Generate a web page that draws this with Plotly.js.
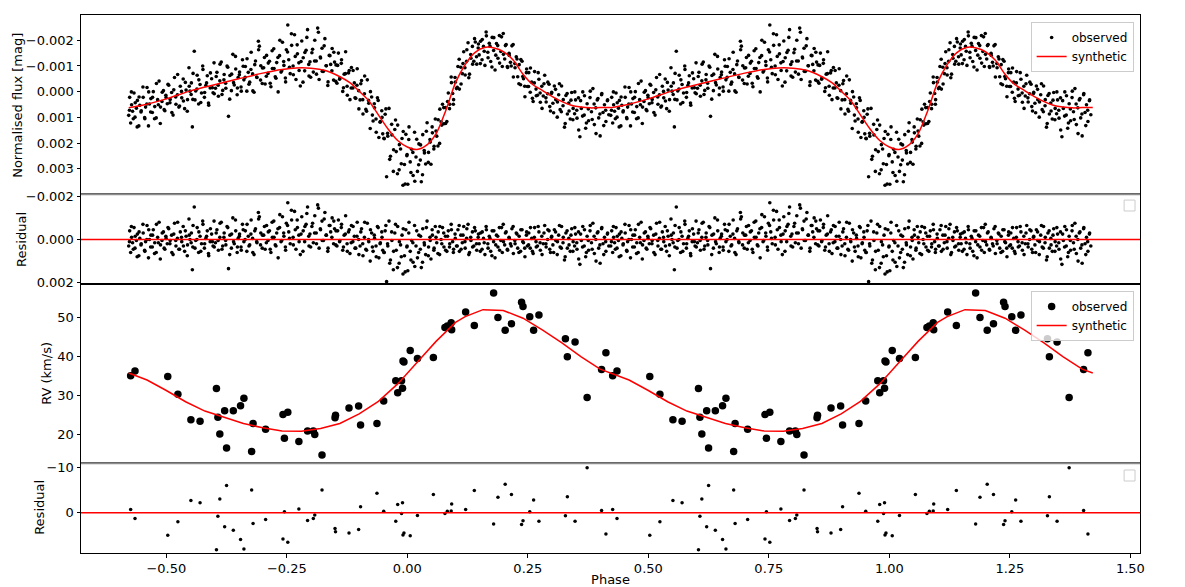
<!DOCTYPE html>
<html>
<head>
<meta charset="utf-8">
<script src="https://cdn.plot.ly/plotly-3.0.1.min.js"></script>
<style>html,body{margin:0;padding:0;background:#fff;}#chart{width:1185px;height:587px;}</style>
</head>
<body>
<div id="chart"></div>
<script>
// ---------- Light curve (one cycle; the figure shows it twice, at phase and phase+1) ----------
const lcPhase = [
-0.578,-0.576,-0.574,-0.572,-0.570,-0.567,-0.565,-0.562,-0.560,-0.557,-0.555,-0.552,
-0.548,-0.545,-0.543,-0.540,-0.537,-0.535,-0.532,-0.529,-0.527,-0.524,-0.521,-0.518,-0.515,-0.512,-0.509,-0.506,-0.503,-0.501,
-0.498,-0.495,-0.492,-0.489,-0.486,-0.483,-0.480,-0.477,-0.474,-0.471,-0.468,-0.465,-0.462,-0.459,-0.456,-0.453,-0.451,-0.446,
-0.448,-0.445,-0.442,-0.439,-0.436,-0.433,-0.430,-0.427,-0.424,-0.421,-0.418,-0.415,-0.412,-0.409,-0.406,-0.403,-0.401,
-0.398,-0.395,-0.392,-0.389,-0.386,-0.383,-0.380,-0.377,-0.374,-0.371,-0.368,-0.365,-0.362,-0.359,-0.356,-0.353,-0.351,
-0.348,-0.345,-0.342,-0.339,-0.336,-0.333,-0.330,-0.327,-0.324,-0.321,-0.318,-0.315,-0.312,-0.309,-0.307,-0.304,-0.301,
-0.298,-0.295,-0.292,-0.289,-0.286,-0.283,-0.280,-0.277,-0.274,-0.271,-0.268,-0.265,-0.262,-0.259,-0.256,-0.253,-0.251,
-0.248,-0.246,-0.243,-0.240,-0.237,-0.234,-0.231,-0.228,-0.225,-0.222,-0.219,-0.216,-0.213,-0.210,-0.207,-0.204,-0.202,
-0.198,-0.195,-0.192,-0.189,-0.186,-0.183,-0.180,-0.177,-0.174,-0.171,-0.168,-0.165,-0.162,-0.159,-0.156,-0.153,-0.151,
-0.148,-0.146,-0.143,-0.140,-0.137,-0.134,-0.131,-0.128,-0.125,-0.122,-0.119,-0.116,-0.113,-0.110,-0.107,-0.104,-0.101,
-0.098,-0.095,-0.092,-0.089,-0.086,-0.083,-0.080,-0.077,-0.074,-0.071,-0.068,-0.065,-0.062,-0.059,-0.056,-0.053,-0.051,
-0.048,-0.046,-0.043,-0.041,-0.038,-0.035,-0.032,-0.029,-0.026,-0.023,-0.020,-0.017,-0.014,-0.011,-0.009,-0.006,-0.003,-0.001,
0.001,0.003,0.006,0.009,0.012,0.015,0.018,0.021,0.024,0.027,0.029,0.032,0.035,0.038,0.041,0.044,0.047,0.049,
0.052,0.055,0.058,0.061,0.064,0.067,0.070,0.073,0.076,0.079,0.082,0.085,0.088,0.091,0.094,0.096,0.099,
0.102,0.105,0.108,0.111,0.114,0.117,0.120,0.123,0.126,0.129,0.132,0.135,0.138,0.141,0.144,0.147,0.149,
0.152,0.155,0.158,0.161,0.164,0.167,0.170,0.173,0.176,0.179,0.182,0.185,0.188,0.191,0.194,0.197,0.199,
0.202,0.205,0.208,0.211,0.214,0.217,0.220,0.223,0.226,0.229,0.232,0.235,0.238,0.241,0.244,0.247,0.249,
0.252,0.255,0.258,0.261,0.264,0.267,0.270,0.273,0.276,0.279,0.282,0.285,0.288,0.291,0.294,0.297,0.299,
0.302,0.305,0.308,0.311,0.314,0.317,0.320,0.323,0.326,0.329,0.332,0.335,0.338,0.341,0.344,0.347,0.349,
0.352,0.355,0.358,0.361,0.364,0.367,0.370,0.373,0.376,0.379,0.382,0.385,0.388,0.391,0.394,0.397,0.400,0.403,0.406,0.409,0.412,0.415,0.418,
-0.5765,-0.5725,-0.5685,-0.5645,-0.5605,-0.5565,-0.5525,-0.5485,-0.5445,-0.5405,
-0.5365,-0.5325,-0.5285,-0.5245,-0.5205,-0.5165,-0.5125,-0.5085,-0.5045,-0.5005,
-0.4965,-0.4925,-0.4885,-0.4845,-0.4805,-0.4765,-0.4725,-0.4685,-0.4645,-0.4605,
-0.4565,-0.4525,-0.4485,-0.4445,-0.4405,-0.4365,-0.4325,-0.4285,-0.4245,-0.4205,
-0.4165,-0.4125,-0.4085,-0.4045,-0.4005,-0.3965,-0.3925,-0.3885,-0.3845,-0.3805,
-0.3765,-0.3725,-0.3685,-0.3645,-0.3605,-0.3565,-0.3525,-0.3485,-0.3445,-0.3405,
-0.3365,-0.3325,-0.3285,-0.3245,-0.3205,-0.3165,-0.3125,-0.3085,-0.3045,-0.3005,
-0.2965,-0.2925,-0.2885,-0.2845,-0.2805,-0.2765,-0.2725,-0.2685,-0.2645,-0.2605,
-0.2565,-0.2525,-0.2485,-0.2445,-0.2405,-0.2365,-0.2325,-0.2285,-0.2245,-0.2205,
-0.2165,-0.2125,-0.2085,-0.2045,-0.2005,-0.1965,-0.1925,-0.1885,-0.1845,-0.1805,
-0.1765,-0.1725,-0.1685,-0.1645,-0.1605,-0.1565,-0.1525,-0.1485,-0.1445,-0.1405,
-0.1365,-0.1325,-0.1285,-0.1245,-0.1205,-0.1165,-0.1125,-0.1085,-0.1045,-0.1005,
-0.0965,-0.0925,-0.0885,-0.0845,-0.0805,-0.0765,-0.0725,-0.0685,-0.0645,-0.0605,
-0.0565,-0.0525,-0.0485,-0.0445,-0.0405,-0.0365,-0.0325,-0.0285,-0.0245,-0.0205,
-0.0165,-0.0125,-0.0085,-0.0045,-0.0005,0.0035,0.0075,0.0115,0.0155,0.0195,
0.0235,0.0275,0.0315,0.0355,0.0395,0.0435,0.0475,0.0515,0.0555,0.0595,
0.0635,0.0675,0.0715,0.0755,0.0795,0.0835,0.0875,0.0915,0.0955,0.0995,
0.1035,0.1075,0.1115,0.1155,0.1195,0.1235,0.1275,0.1315,0.1355,0.1395,
0.1435,0.1475,0.1515,0.1555,0.1595,0.1635,0.1675,0.1715,0.1755,0.1795,
0.1835,0.1875,0.1915,0.1955,0.1995,0.2035,0.2075,0.2115,0.2155,0.2195,
0.2235,0.2275,0.2315,0.2355,0.2395,0.2435,0.2475,0.2515,0.2555,0.2595,
0.2635,0.2675,0.2715,0.2755,0.2795,0.2835,0.2875,0.2915,0.2955,0.2995,
0.3035,0.3075,0.3115,0.3155,0.3195,0.3235,0.3275,0.3315,0.3355,0.3395,
0.3435,0.3475,0.3515,0.3555,0.3595,0.3635,0.3675,0.3715,0.3755,0.3795,
0.3835,0.3875,0.3915,0.3955,0.3995,0.4035,0.4075,0.4115,0.4155
];
const lcObs = [
0.00092,0.00022,0.00122,0.00051,0.00076,0.00005,0.00099,0.00064,0.00034,0.00133,0.00053,0.00074,
0.00022,0.00101,0.00060,-0.00016,0.00133,0.00048,0.00027,0.00081,0,0.00058,0.00102,0.00031,-0.00041,0.00060,0.00038,-0.00004,0.00074,0.00014,
0.00047,-0.00025,0.00030,0.00003,0.00091,-0.00055,0.00049,0.00012,0.00060,-0.00021,0.00024,-0.00049,0.00066,-0.00006,0.00031,-0.00093,-0.00002,0.00137,
-0.00034,0.00030,-0.00157,-0.00003,-0.00064,0.00048,-0.00028,0.00005,-0.00086,0.00022,-0.00024,-0.00062,0.00053,-0.00014,-0.00050,0.00004,-0.00112,
-0.00013,-0.00075,0.00018,-0.00042,-0.00115,-0.00005,-0.00067,-0.00033,-0.00100,0.00096,-0.00063,-0.00004,-0.00145,-0.00026,-0.00088,0.00012,-0.00055,
-0.00076,-0.00018,-0.00124,-0.00046,-0.00098,-0.00002,-0.00075,-0.00037,-0.00153,-0.00069,0.00002,-0.00119,-0.00055,-0.00196,-0.00177,-0.00101,-0.00032,
-0.00093,-0.00030,-0.00141,-0.00071,-0.00118,-0.00019,-0.00090,-0.00167,-0.00058,-0.00113,0.00001,-0.00140,-0.00076,-0.00192,-0.00102,-0.00053,-0.00163,
-0.00259,-0.00124,-0.00070,-0.00180,-0.00100,-0.00221,-0.00047,-0.00147,-0.00112,-0.00022,-0.00197,-0.00132,-0.00081,-0.00161,-0.00241,-0.00061,-0.00116,
-0.00151,-0.00076,-0.00200,-0.00119,-0.00247,-0.00047,-0.00131,-0.00169,-0.00079,-0.00206,-0.00101,-0.00024,-0.00141,-0.00106,-0.00168,-0.00045,-0.00115,
-0.00104,-0.00033,-0.00150,-0.00053,-0.00110,-0.00001,-0.00068,-0.00155,-0.00021,-0.00073,0.00031,-0.00094,-0.00014,-0.00034,0.00026,-0.00089,-0.00004,
0.00032,-0.00043,0.00087,0.00008,0.00069,-0.00046,0.00045,0.00143,0.00021,0.00114,0.00063,0.00106,0.00024,0.00178,0.00116,0.00074,0.00164,
0.00183,0.00088,0.00331,0.00162,0.00065,0.00251,0.00168,0.00310,0.00147,0.00233,0.00130,0.00304,0.00223,0.00182,0.00364,0.00283,0.00166,0.00249,
0.00360,0.00186,0.00273,0.00224,0.00326,0.00158,0.00254,0.00310,0.00203,0.00266,0.00350,0.00167,0.00229,0.00281,0.00121,0.00236,0.00186,0.00282,
0.00160,0.00223,0.00106,0.00173,0.00109,0.00201,0.00117,0.00049,0.00125,0.00062,0.00116,0.00005,0.00049,-0.00057,0.00007,0.00031,-0.00055,
-0.00012,-0.00098,-0.00010,-0.00095,-0.00070,-0.00155,-0.00065,-0.00118,-0.00190,-0.00068,-0.00130,-0.00176,-0.00118,-0.00193,-0.00107,-0.00170,-0.00143,
-0.00196,-0.00124,-0.00176,-0.00102,-0.00217,-0.00153,-0.00188,-0.00117,-0.00211,-0.00160,-0.00084,-0.00187,-0.00130,-0.00218,-0.00156,-0.00098,-0.00226,
-0.00127,-0.00183,-0.00094,-0.00149,-0.00114,-0.00178,-0.00057,-0.00109,-0.00136,-0.00058,-0.00105,-0.00027,-0.00118,-0.00050,0.00020,-0.00074,-0.00020,
-0.00074,0.00002,-0.00037,0.00038,-0.00078,-0.00010,0.00014,-0.00048,0.00041,-0.00021,0.00017,-0.00064,0.00040,0.00008,-0.00029,0.00075,0.00007,
0.00045,-0.00022,0.00031,0.00099,0.00012,0.00070,-0.00022,0.00055,0.00138,0.00015,0.00087,0.00044,0.00106,0.00003,0.00065,0.00086,0.00032,
0.00103,0.00024,0.00175,0.00065,0.00001,0.00091,0.00142,0.00047,0.00113,0.00023,0.00078,-0.00012,0.00128,0.00063,0.00032,0.00102,0.00172,0.00012,0.00081,0.00051,0.00116,0.00035,0.00090,
0.00072,0.00001,0.00105,0.00043,0.00137,0.00021,0.00079,-0.00018,0.00105,0.00048,
0.00001,0.00079,0.00022,0.00105,-0.00032,0.00051,0.00124,0.00002,0.00070,0.00023,
-0.00029,0.00043,0.00081,-0.00007,0.00021,-0.00067,0.00056,-0.00001,0.00036,-0.00036,
0.00076,-0.00021,0.00011,-0.00071,0.00032,-0.00010,-0.00046,0.00042,-0.00100,0.00003,
-0.00034,0.00044,-0.00073,-0.00015,0.00008,-0.00059,-0.00025,-0.00107,0.00011,-0.00046,
-0.00013,-0.00095,0.00029,-0.00068,-0.00035,-0.00137,-0.00014,-0.00066,-0.00002,-0.00099,
-0.00056,-0.00128,-0.00029,-0.00086,-0.00003,-0.00105,-0.00057,-0.00163,-0.00045,-0.00092,
-0.00133,-0.00060,-0.00111,-0.00033,-0.00159,-0.00090,-0.00052,-0.00133,-0.00200,-0.00081,
-0.00117,-0.00038,-0.00154,-0.00095,-0.00225,-0.00066,-0.00137,-0.00182,-0.00082,-0.00117,
-0.00037,-0.00152,-0.00211,-0.00106,-0.00056,-0.00165,-0.00119,-0.00068,-0.00231,-0.00135,
-0.00079,-0.00178,-0.00101,-0.00038,-0.00140,-0.00081,-0.00153,-0.00040,-0.00102,-0.00048,
-0.00124,-0.00015,-0.00070,0.00014,-0.00082,-0.00014,-0.00082,0.00024,-0.00025,0.00067,
-0.00031,0.00031,-0.00061,0.00076,0.00034,0,0.00091,0.00047,0.00158,0.00034,
0.00119,0.00100,0.00181,0.00067,0.00173,0.00263,0.00127,0.00226,0.00110,0.00319,
0.00206,0.00280,0.00155,0.00359,0.00244,0.00137,0.00314,0.00236,0.00348,0.00185,
0.00284,0.00207,0.00323,0.00238,0.00154,0.00275,0.00196,0.00137,0.00212,0.00153,
0.00211,0.00068,0.00130,0.00062,0.00124,0.00038,0.00066,-0.00035,0.00049,-0.00037,
-0.00017,-0.00126,-0.00030,-0.00109,-0.00093,-0.00163,-0.00054,-0.00144,-0.00107,-0.00206,
-0.00136,-0.00185,-0.00109,-0.00203,-0.00157,-0.00232,-0.00132,-0.00177,-0.00096,-0.00210,
-0.00142,-0.00179,-0.00111,-0.00213,-0.00145,-0.00179,-0.00098,-0.00141,-0.00100,-0.00183,
-0.00093,-0.00127,-0.00031,-0.00125,-0.00059,-0.00021,-0.00088,-0.00020,-0.00092,0.00026,
-0.00034,0.00016,-0.00074,0.00005,0.00065,-0.00031,0.00024,-0.00037,0.00058,0.00002,
0.00082,-0.00009,0.00040,-0.00031,0.00078,0.00031,0.00124,0.00007,0.00075,0.00033,
0.00109,0.00001,0.00072,0.00149,0.00035,0.00095,0.00016,0.00122,0.00067,-0.00002,
0.00108,0.00048,0.00163,0.00027,0.00087,0.00007,0.00132,0.00072,0.00032
];
const lcResid = [
0.00030,-0.00040,0.00060,-0.00010,0.00015,-0.00055,0.00040,0.00005,-0.00025,0.00075,-0.00005,0.00020,
-0.00030,0.00050,0.00010,-0.00065,0.00085,0,-0.00020,0.00035,-0.00045,0.00015,0.00060,-0.00010,-0.00080,0.00025,0.00005,-0.00035,0.00045,-0.00015,
0.00020,-0.00050,0.00005,-0.00020,0.00070,-0.00075,0.00030,-0.00005,0.00045,-0.00035,0.00010,-0.00060,0.00055,-0.00015,0.00025,-0.00095,0,0.00140,
-0.00030,0.00035,-0.00150,0.00005,-0.00055,0.00060,-0.00015,0.00020,-0.00070,0.00040,-0.00005,-0.00040,0.00075,0.00010,-0.00025,0.00030,-0.00085,
0.00015,-0.00045,0.00050,-0.00010,-0.00080,0.00030,-0.00030,0.00005,-0.00060,0.00135,-0.00020,0.00040,-0.00100,0.00020,-0.00040,0.00060,-0.00005,
-0.00025,0.00035,-0.00070,0.00010,-0.00040,0.00055,-0.00015,0.00025,-0.00090,-0.00005,0.00070,-0.00050,0.00015,-0.00125,-0.00105,-0.00030,0.00040,
-0.00020,0.00045,-0.00065,0.00005,-0.00040,0.00060,-0.00010,-0.00085,0.00025,-0.00030,0.00085,-0.00055,0.00010,-0.00105,-0.00015,0.00035,-0.00075,
-0.00170,-0.00035,0.00020,-0.00090,-0.00010,-0.00130,0.00045,-0.00055,-0.00020,0.00070,-0.00105,-0.00040,0.00010,-0.00070,-0.00150,0.00030,-0.00025,
-0.00060,0.00015,-0.00110,-0.00030,-0.00160,0.00040,-0.00045,-0.00085,0.00005,-0.00125,-0.00020,0.00055,-0.00065,-0.00035,-0.00100,0.00020,-0.00050,
-0.00040,0.00030,-0.00090,0.00005,-0.00055,0.00050,-0.00020,-0.00110,0.00020,-0.00035,0.00065,-0.00065,0.00010,-0.00015,0.00040,-0.00080,0,
0.00030,-0.00050,0.00075,-0.00010,0.00045,-0.00075,0.00010,0.00100,-0.00030,0.00055,-0.00005,0.00030,-0.00060,0.00085,0.00015,-0.00035,0.00050,
0.00060,-0.00040,0.00195,0.00020,-0.00085,0.00095,0.00005,0.00140,-0.00030,0.00050,-0.00060,0.00110,0.00025,-0.00020,0.00160,0.00075,-0.00045,0.00035,
0.00145,-0.00030,0.00055,0.00005,0.00105,-0.00065,0.00030,0.00085,-0.00020,0.00045,0.00130,-0.00050,0.00015,0.00070,-0.00085,0.00035,-0.00010,0.00090,
-0.00020,0.00050,-0.00060,0.00015,-0.00035,0.00070,0,-0.00055,0.00035,-0.00015,0.00055,-0.00040,0.00020,-0.00070,0.00010,0.00045,-0.00025,
0.00030,-0.00045,0.00055,-0.00020,0.00015,-0.00060,0.00040,-0.00005,-0.00070,0.00060,0.00005,-0.00035,0.00030,-0.00040,0.00050,-0.00010,0.00020,
-0.00030,0.00045,-0.00005,0.00070,-0.00045,0.00020,-0.00015,0.00055,-0.00040,0.00010,0.00085,-0.00020,0.00035,-0.00055,0.00005,0.00060,-0.00070,
0.00025,-0.00035,0.00050,-0.00010,0.00020,-0.00050,0.00065,0.00005,-0.00030,0.00040,-0.00015,0.00055,-0.00045,0.00015,0.00080,-0.00020,0.00030,
-0.00030,0.00040,-0.00005,0.00065,-0.00055,0.00010,0.00030,-0.00035,0.00050,-0.00015,0.00020,-0.00065,0.00035,0,-0.00040,0.00060,-0.00010,
0.00025,-0.00045,0.00005,0.00070,-0.00020,0.00035,-0.00060,0.00015,0.00095,-0.00030,0.00040,-0.00005,0.00055,-0.00050,0.00010,0.00030,-0.00025,
0.00045,-0.00035,0.00115,0.00005,-0.00060,0.00030,0.00080,-0.00015,0.00050,-0.00040,0.00015,-0.00075,0.00065,0,-0.00030,0.00040,0.00110,-0.00050,0.00020,-0.00010,0.00055,-0.00025,0.00030,
0.00010,-0.00060,0.00045,-0.00015,0.00080,-0.00035,0.00025,-0.00070,0.00055,0,
-0.00045,0.00035,-0.00020,0.00065,-0.00070,0.00015,0.00090,-0.00030,0.00040,-0.00005,
-0.00055,0.00020,0.00060,-0.00025,0.00005,-0.00080,0.00045,-0.00010,0.00030,-0.00040,
0.00075,-0.00020,0.00015,-0.00065,0.00040,0,-0.00035,0.00055,-0.00085,0.00020,
-0.00015,0.00065,-0.00050,0.00010,0.00035,-0.00030,0.00005,-0.00075,0.00045,-0.00010,
0.00025,-0.00055,0.00070,-0.00025,0.00010,-0.00090,0.00035,-0.00015,0.00050,-0.00045,
0,-0.00070,0.00030,-0.00025,0.00060,-0.00040,0.00010,-0.00095,0.00025,-0.00020,
-0.00060,0.00015,-0.00035,0.00045,-0.00080,-0.00010,0.00030,-0.00050,-0.00115,0.00005,
-0.00030,0.00050,-0.00065,-0.00005,-0.00135,0.00025,-0.00045,-0.00090,0.00010,-0.00025,
0.00055,-0.00060,-0.00120,-0.00015,0.00035,-0.00075,-0.00030,0.00020,-0.00145,-0.00050,
0.00005,-0.00095,-0.00020,0.00040,-0.00065,-0.00010,-0.00085,0.00025,-0.00040,0.00010,
-0.00070,0.00035,-0.00025,0.00055,-0.00045,0.00015,-0.00060,0.00040,-0.00015,0.00070,
-0.00035,0.00020,-0.00080,0.00050,0,-0.00045,0.00035,-0.00020,0.00080,-0.00055,
0.00020,-0.00010,0.00060,-0.00065,0.00030,0.00110,-0.00035,0.00055,-0.00070,0.00130,
0.00010,0.00080,-0.00050,0.00150,0.00030,-0.00080,0.00095,0.00015,0.00125,-0.00040,
0.00060,-0.00015,0.00105,0.00025,-0.00055,0.00075,0.00005,-0.00045,0.00040,-0.00010,
0.00065,-0.00060,0.00020,-0.00030,0.00050,-0.00015,0.00035,-0.00045,0.00060,-0.00005,
0.00030,-0.00065,0.00045,-0.00020,0.00010,-0.00050,0.00070,-0.00010,0.00035,-0.00055,
0.00020,-0.00025,0.00055,-0.00035,0.00015,-0.00060,0.00040,-0.00005,0.00075,-0.00040,
0.00025,-0.00015,0.00050,-0.00055,0.00010,-0.00030,0.00045,-0.00005,0.00030,-0.00060,
0.00020,-0.00025,0.00060,-0.00045,0.00010,0.00040,-0.00035,0.00025,-0.00055,0.00055,
-0.00010,0.00035,-0.00060,0.00015,0.00070,-0.00030,0.00020,-0.00045,0.00045,-0.00015,
0.00060,-0.00035,0.00010,-0.00065,0.00040,-0.00010,0.00080,-0.00040,0.00025,-0.00020,
0.00055,-0.00055,0.00015,0.00090,-0.00025,0.00035,-0.00045,0.00060,0.00005,-0.00065,
0.00045,-0.00015,0.00100,-0.00035,0.00025,-0.00055,0.00070,0.00010,-0.00030
];
const lcModelPhase = [-0.578,-0.55,-0.50,-0.45,-0.40,-0.35,-0.30,-0.26,-0.23,-0.20,-0.17,-0.14,-0.12,-0.10,-0.08,-0.06,-0.04,-0.02,0.00,0.02,0.04,0.06,0.08,0.10,0.12,0.14,0.16,0.18,0.20,0.22,0.24,0.26,0.28,0.30,0.32,0.34,0.36,0.38,0.40,0.422];
const lcModelMag = [0.00062,0.00053,0.00028,-0.00003,-0.00027,-0.00050,-0.00072,-0.00086,-0.00092,-0.00091,-0.00082,-0.00058,-0.00036,-0.00002,0.00035,0.00090,0.00145,0.00190,0.00215,0.00225,0.00208,0.00162,0.00072,-0.00035,-0.00105,-0.00152,-0.00172,-0.00170,-0.00155,-0.00122,-0.00068,-0.00028,-0.00005,0.00018,0.00038,0.00053,0.00060,0.00063,0.00062,0.00062];

// ---------- Radial velocities (one cycle) ----------
const rvPhase = [-0.574,-0.565,-0.497,-0.476,-0.449,-0.430,-0.396,-0.393,-0.389,-0.379,-0.375,-0.361,-0.346,-0.339,-0.323,-0.320,-0.294,-0.258,-0.255,-0.248,-0.225,-0.207,-0.195,-0.192,-0.177,-0.150,-0.149,-0.121,-0.101,-0.097,-0.063,-0.049,-0.024,-0.020,-0.012,-0.010,-0.009,-0.007,0.006,0.021,0.054,0.078,0.083,0.091,0.092,0.121,0.139,0.179,0.188,0.203,0.216,0.237,0.240,0.254,0.262,0.273,0.328,0.332,0.348,0.373,0.403,0.412];
const rvObs = [35.1,36.3,34.9,30.3,23.8,23.4,31.8,24.4,20.1,26.1,16.5,26.1,27.4,29.3,15.6,22.8,21.3,25.1,19.0,25.7,18.2,20.9,20.9,20.0,14.7,24.3,24.9,26.8,27.3,22.4,22.8,28.6,33.8,30.7,33.8,31.9,38.9,38.6,41.6,39.5,39.8,47.5,47.9,48.7,46.9,51.5,48.0,56.4,50.1,46.8,48.5,54.0,52.9,50.3,46.8,50.7,44.6,40.0,43.8,29.5,36.7,41.0];
const rvResid = [-0.7,1.3,5.0,2.0,-2.7,-2.2,8.2,0.8,-3.0,3.1,-6.0,3.9,5.9,8.0,-5.0,2.4,1.5,5.8,-0.2,6.5,-0.8,1.7,1.3,0.5,-5.0,3.5,4.2,4.5,3.7,-1.3,-4.3,-0.3,1.9,-1.8,0.2,-2.2,4.9,4.5,5.1,0.6,-4.0,0.2,-0.3,-0.4,-1.9,-0.7,-4.9,2.5,-3.4,-6.3,-4.0,2.6,1.8,-0.2,-2.8,1.9,0.7,-3.5,1.9,-9.9,-0.5,4.7];
const rvModelPhase = [-0.578,-0.54,-0.50,-0.46,-0.42,-0.38,-0.34,-0.30,-0.26,-0.22,-0.18,-0.14,-0.10,-0.06,-0.02,0.02,0.06,0.10,0.12,0.157,0.199,0.24,0.28,0.32,0.36,0.40,0.422];
const rvModelVel = [35.8,34.0,31.3,28.4,26.0,24.4,22.8,21.7,20.9,20.8,21.5,22.8,25.3,28.5,33.0,38.5,44.0,48.8,50.3,52.1,51.9,49.9,46.9,43.6,40.0,36.8,35.8];

// axis titles
const yTitles = ['Normalised flux [mag]', 'Residual', 'RV (km/s)', 'Residual'];
const xTitle = 'Phase';

// phase-folded data are shown over two cycles
const twoCycles = p => p.concat(p.map(v => v + 1));
const twice = a => a.concat(a);

const FONT = "DejaVu Sans, Liberation Sans, sans-serif";
const traces = [
  {x: twoCycles(lcPhase), y: twice(lcObs), xaxis:'x', yaxis:'y', type:'scatter', mode:'markers', name:'observed',
   marker:{color:'#000', size:3.6}, legend:'legend'},
  {x: twoCycles(lcModelPhase), y: twice(lcModelMag), xaxis:'x', yaxis:'y', type:'scatter', mode:'lines', name:'synthetic',
   line:{color:'#ff0000', width:1.5, shape:'spline', smoothing:0.8}, legend:'legend'},
  {x: twoCycles(lcPhase), y: twice(lcResid), xaxis:'x2', yaxis:'y2', type:'scatter', mode:'markers', showlegend:false,
   marker:{color:'#000', size:3.6}},
  {x: twoCycles(rvPhase), y: twice(rvObs), xaxis:'x3', yaxis:'y3', type:'scatter', mode:'markers', name:'observed',
   marker:{color:'#000', size:7.5}, legend:'legend2'},
  {x: twoCycles(rvModelPhase), y: twice(rvModelVel), xaxis:'x3', yaxis:'y3', type:'scatter', mode:'lines', name:'synthetic',
   line:{color:'#ff0000', width:1.5}, legend:'legend2'},
  {x: twoCycles(rvPhase), y: twice(rvResid), xaxis:'x4', yaxis:'y4', type:'scatter', mode:'markers', showlegend:false,
   marker:{color:'#000', size:3.5}}
];

const xRange = [-0.677, 1.52];
const axBase = {showline:true, mirror:true, linecolor:'#000', linewidth:1, showgrid:false, zeroline:false,
  ticks:'outside', ticklen:3.5, tickwidth:1, tickcolor:'#000', tickfont:{family:FONT, size:13, color:'#000'}};
const xBase = Object.assign({}, axBase, {range:xRange});
const legBase = {bgcolor:'rgba(255,255,255,0.8)', bordercolor:'#cccccc', borderwidth:1,
  font:{family:FONT, size:12, color:'#000'}, xanchor:'right', yanchor:'top', x:0.994, tracegroupgap:0, itemwidth:30};
const titleFont = {family:FONT, size:13, color:'#000'};

// y-title placement (paper coords)
const yTitlePos = [[-0.0595, 0.833], [-0.0557, 0.582], [-0.0321, 0.333], [-0.0387, 0.084]];
const annotations = yTitles.map((t, i) => ({text:t, xref:'paper', yref:'paper', x:yTitlePos[i][0], y:yTitlePos[i][1],
  xanchor:'center', yanchor:'middle', textangle:-90, showarrow:false, font:titleFont}));

const layout = {
  width:1185, height:587,
  margin:{l:81, r:45, t:15, b:34, pad:0},
  paper_bgcolor:'#fff', plot_bgcolor:'#fff',
  font:{family:FONT, size:13, color:'#000'},
  xaxis: Object.assign({}, xBase, {anchor:'y', showticklabels:false, ticks:''}),
  xaxis2: Object.assign({}, xBase, {anchor:'y2', matches:'x', showticklabels:false, ticks:''}),
  xaxis3: Object.assign({}, xBase, {anchor:'y3', matches:'x', showticklabels:false, ticks:''}),
  xaxis4: Object.assign({}, xBase, {anchor:'y4', matches:'x', tick0:0, dtick:0.25, tickformat:'.2f',
    title:{text:xTitle, font:titleFont, standoff:1}}),
  yaxis: Object.assign({}, axBase, {domain:[0.6667,1], range:[0.00399,-0.00298], tick0:0, dtick:0.001, tickformat:'.3f'}),
  yaxis2: Object.assign({}, axBase, {domain:[0.5,0.6667], range:[0.00206,-0.00209], tick0:0, dtick:0.002, tickformat:'.3f'}),
  yaxis3: Object.assign({}, axBase, {domain:[0.1667,0.5], range:[12.56,58.7], tick0:0, dtick:10}),
  yaxis4: Object.assign({}, axBase, {domain:[0,0.1667], range:[8.9,-10.9], tick0:0, dtick:10}),
  legend: Object.assign({}, legBase, {y:0.987}),
  legend2: Object.assign({}, legBase, {y:0.487}),
  annotations: annotations,
  shapes:[
    {type:'line', xref:'x2 domain', yref:'y2', x0:0, x1:1, y0:0, y1:0, line:{color:'#ff0000', width:1.5}},
    {type:'line', xref:'x4 domain', yref:'y4', x0:0, x1:1, y0:0, y1:0, line:{color:'#ff0000', width:1.5}},
    {type:'line', xref:'paper', yref:'paper', x0:0, x1:1, y0:0.6667, y1:0.6667, line:{color:'#8c8c8c', width:2}},
    {type:'line', xref:'paper', yref:'paper', x0:0, x1:1, y0:0.1667, y1:0.1667, line:{color:'#8c8c8c', width:2}},
    {type:'rect', xref:'paper', yref:'paper', x0:0.985, x1:0.9953, y0:0.6357, y1:0.656, line:{color:'#cccccc', width:1}, fillcolor:'rgba(255,255,255,0.8)'},
    {type:'rect', xref:'paper', yref:'paper', x0:0.985, x1:0.9953, y0:0.1338, y1:0.1543, line:{color:'#cccccc', width:1}, fillcolor:'rgba(255,255,255,0.8)'}
  ]
};

Plotly.newPlot('chart', traces, layout, {displayModeBar:false, responsive:false});
</script>
</body>
</html>
